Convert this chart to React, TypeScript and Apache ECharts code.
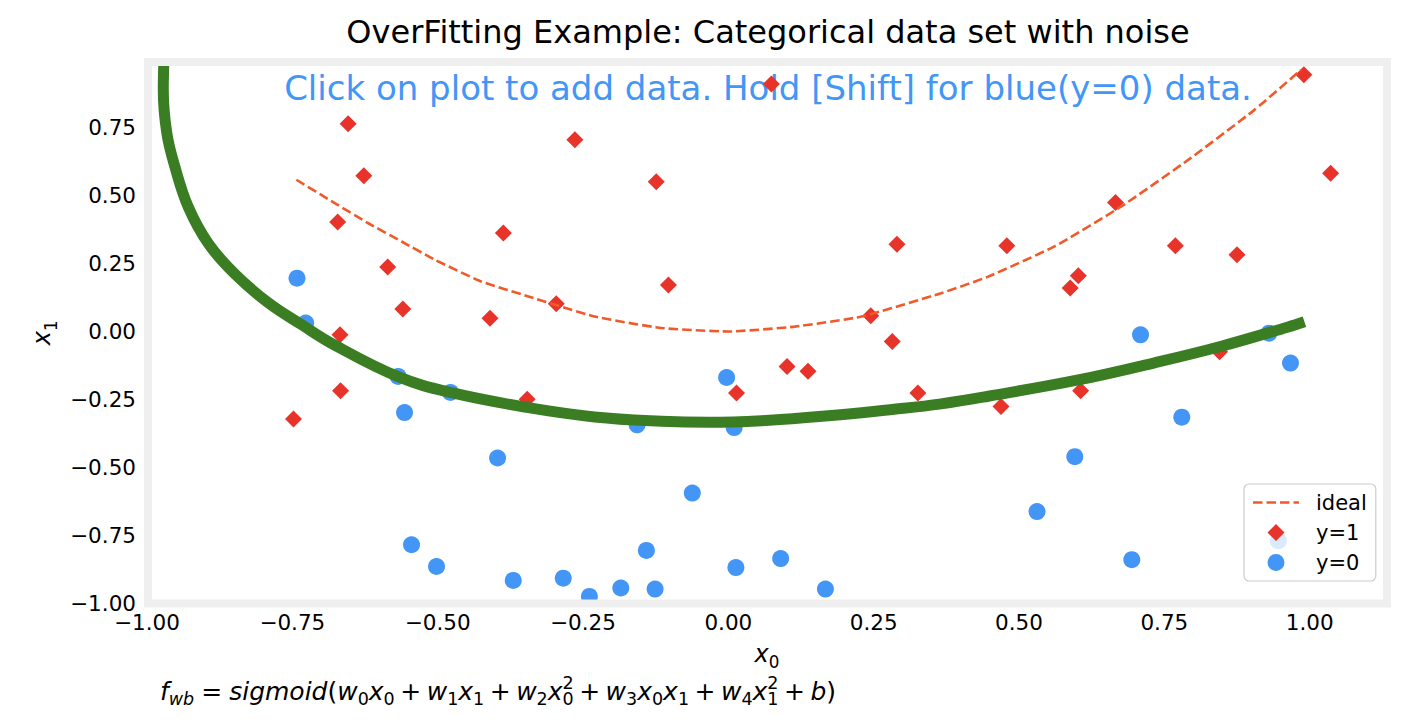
import React, { useEffect, useRef } from "react";
import * as echarts from "echarts";

// ---- data ----
const class1X0 = [-0.654, -0.627, -0.672, -0.586, -0.56, -0.668, -0.667, -0.748, -0.264, -0.124, -0.387, -0.41, -0.296, -0.103, 0.074, 0.29, 0.245, 0.282, 0.99, 1.036, 0.666, 0.479, 0.769, 0.875, 0.602, 0.588, -0.346, 0.014, 0.101, 0.137, 0.326, 0.469, 0.606, 0.845];
const class1X1 = [0.764, 0.573, 0.403, 0.237, 0.083, -0.012, -0.218, -0.322, 0.705, 0.551, 0.362, 0.049, 0.102, 0.171, 0.91, 0.321, 0.058, -0.037, 0.944, 0.582, 0.474, 0.315, 0.315, 0.282, 0.205, 0.16, -0.249, -0.226, -0.129, -0.146, -0.226, -0.276, -0.218, -0.074];

const class0X0 = [-0.742, -0.727, -0.568, -0.557, -0.478, -0.545, -0.502, -0.397, -0.157, 0.01, -0.003, -0.062, -0.141, -0.37, -0.284, -0.239, -0.185, -0.126, 0.013, 0.09, 0.167, 0.709, 0.93, 0.967, 0.78, 0.596, 0.531, 0.694, 0.946];
const class0X1 = [0.196, 0.031, -0.165, -0.298, -0.224, -0.784, -0.864, -0.465, -0.343, -0.353, -0.169, -0.594, -0.805, -0.915, -0.907, -0.974, -0.943, -0.947, -0.868, -0.835, -0.947, -0.012, -0.006, -0.116, -0.315, -0.46, -0.662, -0.839, -0.769];

const idealX0 = [-0.743, -0.677, -0.62, -0.562, -0.505, -0.425, -0.344, -0.23, -0.115, 0.0, 0.114, 0.229, 0.366, 0.447, 0.561, 0.676, 0.791, 0.905, 0.985];
const idealX1 = [0.558, 0.472, 0.399, 0.331, 0.264, 0.184, 0.129, 0.055, 0.013, 0.0, 0.018, 0.055, 0.141, 0.202, 0.313, 0.46, 0.631, 0.815, 0.962];

const boundaryX0 = [-0.971, -0.972, -0.966, -0.952, -0.929, -0.894, -0.849, -0.791, -0.734, -0.678, -0.567, -0.476, -0.344, -0.23, -0.115, -0.034, 0.057, 0.172, 0.285, 0.366, 0.447, 0.602, 0.733, 0.848, 0.963, 0.991];
const boundaryX1 = [0.992, 0.889, 0.731, 0.606, 0.458, 0.322, 0.212, 0.105, 0.025, -0.049, -0.167, -0.225, -0.28, -0.314, -0.33, -0.334, -0.328, -0.31, -0.286, -0.266, -0.238, -0.178, -0.115, -0.054, 0.017, 0.036];

const xMin = -1.0;
const xMax = 1.133;
const yMin = -1.0;
const yMax = 0.991;
const tickStep = 0.25;

const legendNames = ["ideal", "y=1", "y=0"];
const titleText = "OverFitting Example: Categorical data set with noise";
const hintText = "Click on plot to add data. Hold [Shift] for blue(y=0) data.";

// ---- styles ----
const FONT = "DejaVu Sans";
const BLUE = "#4396f6";
const RED = "#e8332a";
const ORANGE = "#f05a28";
const GREEN = "#3a7d22";

// legend icons (46 x 17 box; tiny corner specks fix the bounding box)
const BOX = "M0,0h0.01v0.01h-0.01Z M45.99,16.99h0.01v0.01h-0.01Z ";
const ICON_DASH = "path://" + BOX + "M0,7.2h9.5v2.6h-9.5Z M13.5,7.2h9.5v2.6h-9.5Z M27,7.2h9.5v2.6h-9.5Z M40.5,7.2h5.5v2.6h-5.5Z";
const ICON_DIAMOND = "path://" + BOX + "M23,0L31.5,8.5L23,17L14.5,8.5Z";
const ICON_CIRCLE = "path://" + BOX + "M31.5,8.5A8.5,8.5,0,1,1,14.5,8.5A8.5,8.5,0,1,1,31.5,8.5Z";

const pairs = (a: number[], b: number[]) => a.map((v, i) => [v, b[i]]);
const fmt = (v: number) => (v < 0 ? "\u2212" : "") + Math.abs(v).toFixed(2);

const mkRich = (s: number) => ({
  v: { fontFamily: FONT, fontStyle: "italic", fontSize: s, lineHeight: 34, verticalAlign: "middle", color: "#000" },
  n: { fontFamily: FONT, fontSize: s, lineHeight: 34, verticalAlign: "middle", color: "#000" },
  o: { fontFamily: FONT, fontSize: s, lineHeight: 34, verticalAlign: "middle", color: "#000", padding: [0, 5.5, 0, 5.5] },
  e: { fontFamily: FONT, fontSize: s, lineHeight: 34, verticalAlign: "middle", color: "#000", padding: [0, 7, 0, 7] },
  d: { fontFamily: FONT, fontSize: s * 0.7, lineHeight: 20, verticalAlign: "bottom", color: "#000" },
  sv: { fontFamily: FONT, fontStyle: "italic", fontSize: s * 0.7, lineHeight: 20, verticalAlign: "bottom", color: "#000" },
  u: { fontFamily: FONT, fontSize: s * 0.7, lineHeight: 21, verticalAlign: "top", color: "#000", width: 0 },
});
const axisRich = mkRich(24);
const formulaRich = mkRich(25);

const formula = [
  "{v|f}{sv|wb}",
  "{e|=}",
  "{v|sigmoid}{n|(}",
  "{v|w}{d|0}{v|x}{d|0}",
  "{o|+}",
  "{v|w}{d|1}{v|x}{d|1}",
  "{o|+}",
  "{v|w}{d|2}{v|x}{u|2}{d|0}",
  "{o|+}",
  "{v|w}{d|3}{v|x}{d|0}{v|x}{d|1}",
  "{o|+}",
  "{v|w}{d|4}{v|x}{u|2}{d|1}",
  "{o|+}",
  "{v|b}{n|)}",
].join("");

const gridLeft = 147;
const gridTop = 62;
const gridRight = 35;
const gridBottom = 122.5;

export default function App() {
  const ref = useRef<HTMLDivElement>(null);
  useEffect(() => {
    const chart = echarts.init(ref.current!, null, { renderer: "svg" });
    const option: any = {
      animation: false,
      backgroundColor: "#fff",
      textStyle: { fontFamily: FONT },
      grid: { left: gridLeft, top: gridTop, right: gridRight, bottom: gridBottom, containLabel: false },
      xAxis: {
        type: "value",
        min: xMin,
        max: xMax,
        interval: tickStep,
        axisLine: { show: false },
        axisTick: { show: false },
        splitLine: { show: false },
        axisLabel: { fontSize: 21.5, color: "#000", fontFamily: FONT, margin: 8, showMaxLabel: false, formatter: fmt },
        name: "{v|x}{d|0}",
        nameLocation: "middle",
        nameGap: 33,
        nameTextStyle: { rich: axisRich },
      },
      yAxis: {
        type: "value",
        min: yMin,
        max: yMax,
        interval: tickStep,
        axisLine: { show: false },
        axisTick: { show: false },
        splitLine: { show: false },
        axisLabel: { fontSize: 21.5, color: "#000", fontFamily: FONT, margin: 11, showMaxLabel: false, formatter: fmt },
        name: "{v|x}{d|1}",
        nameLocation: "middle",
        nameGap: 86,
        nameRotate: 90,
        nameTextStyle: { rich: axisRich },
      },
      legend: {
        data: [
          { name: legendNames[0], icon: ICON_DASH },
          { name: legendNames[1], icon: ICON_DIAMOND },
          { name: legendNames[2], icon: ICON_CIRCLE },
        ],
        orient: "vertical",
        left: 1244,
        top: 484,
        itemWidth: 46,
        itemHeight: 17,
        itemGap: 9,
        symbolKeepAspect: true,
        padding: [8, 9, 8, 9],
        backgroundColor: "rgba(255,255,255,0.8)",
        borderColor: "#cccccc",
        borderWidth: 1.2,
        borderRadius: 5,
        textStyle: { fontSize: 21, color: "#000", fontFamily: FONT, padding: [0, 0, 0, 12] },
      },
      graphic: [
        {
          type: "text",
          x: 768,
          y: 32,
          style: { text: titleText, fontFamily: FONT, fontSize: 32, fill: "#000", align: "center", verticalAlign: "middle" },
        },
        {
          type: "text",
          x: 768,
          y: 88,
          style: { text: hintText, fontFamily: FONT, fontSize: 34, fill: BLUE, align: "center", verticalAlign: "middle" },
        },
        {
          type: "text",
          x: 160,
          y: 691,
          style: { text: formula, rich: formulaRich, align: "left", verticalAlign: "middle" },
        },
        {
          type: "rect",
          z: 100,
          shape: { x: gridLeft + 1, y: gridTop, width: 1422 - gridLeft - gridRight - 1, height: 726 - gridTop - gridBottom },
          style: { fill: "none", stroke: "#efefef", lineWidth: 8 },
          silent: true,
        },
      ],
      series: [
        {
          name: "y=1",
          type: "scatter",
          symbol: "diamond",
          symbolSize: 17,
          itemStyle: { color: RED, opacity: 1 },
          data: pairs(class1X0, class1X1),
        },
        {
          name: "y=0",
          type: "scatter",
          symbol: "circle",
          symbolSize: 17,
          itemStyle: { color: BLUE, opacity: 1 },
          data: pairs(class0X0, class0X1),
        },
        {
          name: "ideal",
          type: "line",
          symbol: "none",
          showSymbol: false,
          smooth: 0.15,
          lineStyle: { color: ORANGE, width: 2.6, type: [9.5, 4] },
          itemStyle: { color: ORANGE },
          data: pairs(idealX0, idealX1),
        },
        {
          name: "boundary",
          type: "line",
          symbol: "none",
          showSymbol: false,
          smooth: 0.4,
          lineStyle: { color: GREEN, width: 11 },
          itemStyle: { color: GREEN },
          data: pairs(boundaryX0, boundaryX1),
        },
      ],
    };
    chart.setOption(option);
    return () => chart.dispose();
  }, []);
  return <div ref={ref} style={{ position: "absolute", left: 0, top: 0, width: 1422, height: 726 }} />;
}
